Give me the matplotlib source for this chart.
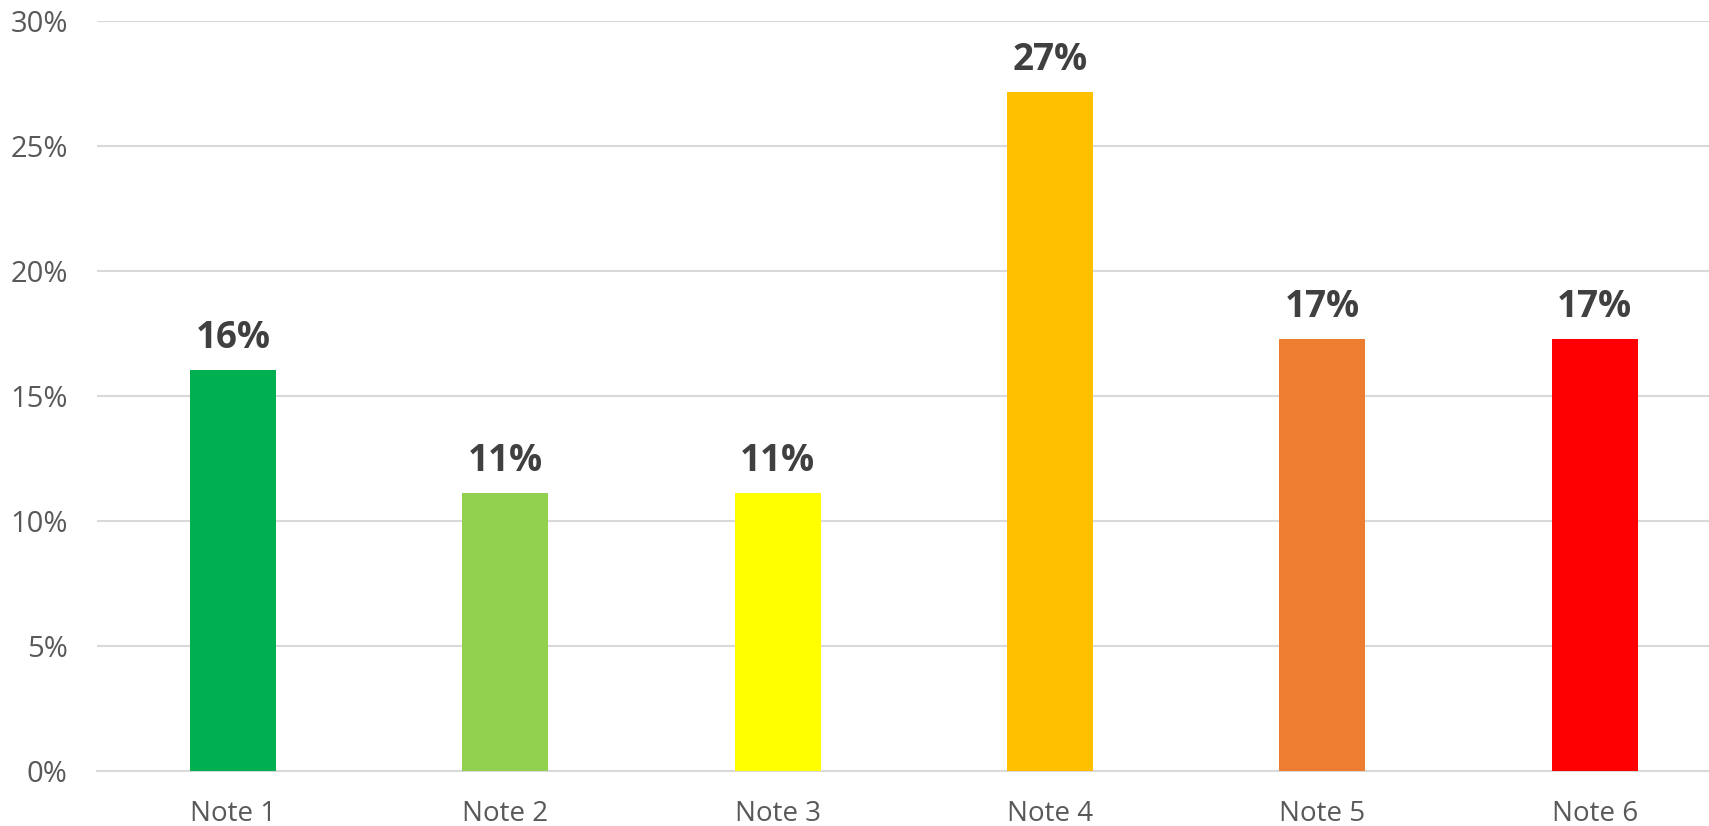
import matplotlib.pyplot as plt
from matplotlib.ticker import PercentFormatter

# responses per note, out of all answers
notes = ["Note 1", "Note 2", "Note 3", "Note 4", "Note 5", "Note 6"]
counts = [13, 9, 9, 22, 14, 14]
colors = ["#00B050", "#92D050", "#FFFF00", "#FFC000", "#ED7D31", "#FF0000"]

total = sum(counts)
shares = [c / total for c in counts]

plt.rcParams['font.family'] = ['Open Sans', 'DejaVu Sans']

fig = plt.figure(figsize=(17.09, 8.26), dpi=100)
ax = fig.add_axes([97 / 1709, 55 / 826, 1 - 97 / 1709, 750 / 826])

x = range(len(notes))
bars = ax.bar(x, shares, width=0.316, color=colors, zorder=3)

for rect, s in zip(bars, shares):
  ax.annotate(f"{s:.0%}", (rect.get_x() + rect.get_width() / 2, rect.get_height()),
              xytext=(0, 16), textcoords="offset points", ha="center", va="baseline",
              fontsize=26.5, fontweight="bold", color="#404040")

ax.set_ylim(0, 0.30)
ax.set_xlim(-0.5, 5.42)
ax.set_yticks([0, 0.05, 0.10, 0.15, 0.20, 0.25, 0.30])
ax.yaxis.set_major_formatter(PercentFormatter(1.0, decimals=0))
ax.set_xticks(list(x))
ax.set_xticklabels(notes)

ax.grid(axis="y", color="#D9D9D9", linewidth=1.5, zorder=0)
for side in ["top", "right", "left"]:
  ax.spines[side].set_visible(False)
ax.spines["bottom"].set_color("#D9D9D9")
ax.spines["bottom"].set_linewidth(1.5)
ax.tick_params(axis="both", length=0, labelcolor="#595959")
ax.tick_params(axis="y", labelsize=21, pad=21)
ax.tick_params(axis="x", labelsize=20, pad=21)

fig.savefig("out.png", dpi=100)
